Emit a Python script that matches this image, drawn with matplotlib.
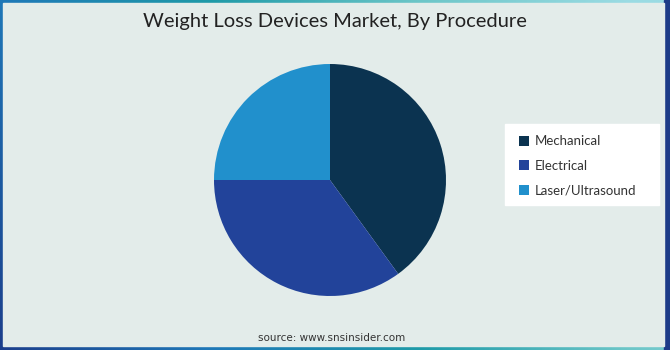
import numpy as np
import matplotlib
matplotlib.use("Agg")
import matplotlib.pyplot as plt
from matplotlib.patches import Rectangle, Patch
from matplotlib.colors import LinearSegmentedColormap

categories = ["Mechanical", "Electrical", "Laser/Ultrasound"]
shares = [40, 35, 25]
colors = ["#0b3350", "#22439a", "#2190cc"]
title = "Weight Loss Devices Market, By Procedure"
source = "source: www.snsinsider.com"

W, H = 670, 350
fig = plt.figure(figsize=(W / 100, H / 100), dpi=100)

# gradient frame background
bg = fig.add_axes([0, 0, 1, 1])
bg.set_axis_off()
xx = np.linspace(0, 1, 300)
yy = np.linspace(0, 1, 150)
X, Y = np.meshgrid(xx, yy)
cmap = LinearSegmentedColormap.from_list(
    "frame", ["#1b3f8c", "#1f78b8", "#1e9aa8", "#6cc6c8", "#9adbe3"])
val = np.clip(0.8 * X + 0.25 * (1 - Y), 0, 1)
bg.imshow(cmap(val), extent=[0, W, 0, H], aspect="auto", origin="upper")
# right dark strip
bg.add_patch(Rectangle((664, 0), 6, H, color="#1d3b88", zorder=2))
# inner panel
bg.add_patch(Rectangle((3, 4), 661, 343, color="#e3ecea", zorder=3))
bg.set_xlim(0, W)
bg.set_ylim(0, H)

fig.text(335 / W, 1 - 21 / H, title, ha="center", va="center",
         fontsize=14.5, family="Lato", color="#222222")
fig.text(332 / W, 1 - 338 / H, source, ha="center", va="center",
         fontsize=7.5, family="DejaVu Sans", color="#333333")

# pie
cx, cy, r = 330, 180, 116
ax = fig.add_axes([(cx - r) / W, (H - cy - r) / H, 2 * r / W, 2 * r / H])
ax.pie(shares, colors=colors, startangle=90, counterclock=False,
       radius=1, wedgeprops=dict(linewidth=0))
ax.set_xlim(-1, 1)
ax.set_ylim(-1, 1)
ax.set_aspect("equal")
ax.set_axis_off()

# legend box
bg.add_patch(Rectangle((505, H - 205), 154, 81, color="white", zorder=4))
handles = [Patch(facecolor=c, edgecolor="none") for c in colors]
leg = fig.legend(handles, categories, loc="center left",
                 bbox_to_anchor=(507 / W, 1 - 166 / H), frameon=False,
                 prop=dict(family="Lato", size=9.5), handlelength=0.8,
                 handleheight=0.8, handletextpad=0.4, labelspacing=0.95,
                 labelcolor="#333333")

fig.savefig("out.png", dpi=100)
